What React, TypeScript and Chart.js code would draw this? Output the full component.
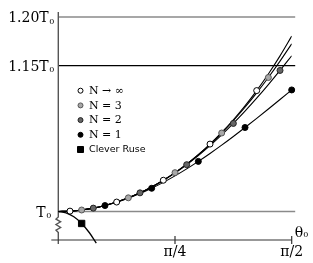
import { useEffect, useRef } from 'react';
import { Chart, registerables } from 'chart.js';

Chart.register(...registerables);

// Amplitude theta0 in degrees (0 .. pi/2)
const thetaDeg = [0, 4.5, 9, 13.5, 18, 22.5, 27, 31.5, 36, 40.5, 45, 49.5, 54, 58.5, 63, 67.5, 72, 76.5, 81, 85.5, 90];

// Period T / T0
const periodExact = [1, 1.00039, 1.00154, 1.00348, 1.0062, 1.00972, 1.01406, 1.01922, 1.02525, 1.03215, 1.03997, 1.04875, 1.05852, 1.06933, 1.08125, 1.09434, 1.10867, 1.12434, 1.14142, 1.16005, 1.18034];
const periodN3 = [1, 1.00039, 1.00154, 1.00348, 1.0062, 1.00972, 1.01406, 1.01922, 1.02524, 1.03214, 1.03993, 1.04867, 1.05836, 1.06903, 1.08072, 1.09343, 1.10719, 1.12198, 1.13779, 1.1546, 1.17236];
const periodN2 = [1, 1.00039, 1.00154, 1.00348, 1.0062, 1.00972, 1.01404, 1.01918, 1.02516, 1.03197, 1.03963, 1.04814, 1.0575, 1.0677, 1.07873, 1.09056, 1.10316, 1.11648, 1.13046, 1.14505, 1.16016];
const periodN1 = [1, 1.00039, 1.00154, 1.00345, 1.00612, 1.00952, 1.01362, 1.01842, 1.02387, 1.02995, 1.03661, 1.04382, 1.05153, 1.05969, 1.06825, 1.07716, 1.08637, 1.09582, 1.10545, 1.11519, 1.125];

// Which samples carry a marker
const marksExact = [1, 5, 9, 13, 17];
const marksN3 = [2, 6, 10, 14, 18];
const marksN2 = [3, 7, 11, 15, 19];
const marksN1 = [4, 8, 12, 16, 20];

// "Clever Ruse" curve
const ruseTheta = [0, 3, 6, 9, 12, 14.65];
const ruseValues = [1, 0.99863, 0.99452, 0.98769, 0.97815, 0.96749];
const ruseMarks = [3];

const seriesLabels = ['N → ∞', 'N = 3', 'N = 2', 'N = 1', 'Clever Ruse'];

const yRefValues = [1.2, 1.15, 1.0];
const yRefLabels = ['1.20T', '1.15T', 'T'];
const xTickValues = [45, 90];
const xTickLabels = ['π/4', 'π/2'];
const xAxisValue = 0.9707;

const SERIF = '"DejaVu Serif", serif';
const SANS = '"DejaVu Sans", sans-serif';

const pts = (xs: number[], ys: number[]) => xs.map((x, i) => ({ x, y: ys[i] }));
const pick = (xs: number[], ys: number[], idx: number[]) => idx.map((i) => ({ x: xs[i], y: ys[i] }));

const decor = {
  id: 'decor',
  beforeDatasetsDraw(chart: any) {
    const { ctx } = chart;
    const xs = chart.scales.x;
    const ys = chart.scales.y;
    const x0 = xs.getPixelForValue(0);
    const x1 = xs.getPixelForValue(90);
    const yT0 = ys.getPixelForValue(1.0);
    const yAx = ys.getPixelForValue(xAxisValue);
    ctx.save();

    // reference lines
    yRefValues.forEach((v, i) => {
      const y = ys.getPixelForValue(v);
      ctx.strokeStyle = i === 1 ? '#000' : '#8a8a8a';
      ctx.lineWidth = i === 1 ? 1.1 : 1.6;
      ctx.beginPath();
      ctx.moveTo(x0, y);
      ctx.lineTo(x1 + 3.5, y);
      ctx.stroke();
    });

    // y axis with break
    ctx.strokeStyle = '#555';
    ctx.lineWidth = 1.4;
    ctx.beginPath();
    ctx.moveTo(x0, ys.getPixelForValue(1.2) - 5);
    ctx.lineTo(x0, yT0 + 5.5);
    const zig = [[-2.3, 7.6], [2.3, 10.3], [-2.3, 13], [2.3, 16], [-2.3, 18.6], [0, 21]];
    zig.forEach(([dx, dy]) => ctx.lineTo(x0 + dx, yT0 + dy));
    ctx.lineTo(x0, yAx + 4);
    ctx.stroke();

    // x axis
    ctx.strokeStyle = '#333';
    ctx.lineWidth = 1.2;
    ctx.beginPath();
    ctx.moveTo(x0 - 7, yAx);
    ctx.lineTo(x1, yAx);
    xTickValues.forEach((v) => {
      const x = xs.getPixelForValue(v);
      ctx.moveTo(x, yAx - 4);
      ctx.lineTo(x, yAx + 4);
    });
    ctx.stroke();

    ctx.fillStyle = '#000';
    ctx.textBaseline = 'alphabetic';
    // x tick labels
    ctx.font = `14px ${SERIF}`;
    ctx.textAlign = 'center';
    xTickValues.forEach((v, i) => {
      ctx.fillText(xTickLabels[i], xs.getPixelForValue(v), yAx + 16);
    });
    // theta0
    ctx.textAlign = 'left';
    ctx.font = `14px ${SERIF}`;
    ctx.fillText('θ', x1 + 3, yAx - 3);
    ctx.font = `8px ${SERIF}`;
    ctx.fillText('0', x1 + 11.5, yAx - 3);

    // y labels
    yRefValues.forEach((v, i) => {
      const y = ys.getPixelForValue(v);
      const right = i === 2 ? x0 - 7 : x0 - 4;
      ctx.font = `8px ${SERIF}`;
      ctx.textAlign = 'right';
      ctx.fillText('0', right, y + 6.5);
      const w = ctx.measureText('0').width;
      ctx.font = `14px ${SERIF}`;
      ctx.fillText(yRefLabels[i], right - w - 0.5, y + 5);
    });
    ctx.restore();
  },
  afterDatasetsDraw(chart: any) {
    const { ctx } = chart;
    ctx.save();
    const marks = chart.data.datasets.filter((d: any) => d.isMark);
    marks.forEach((d: any, i: number) => {
      const y = 90.7 + i * 14.7;
      const x = 80.5;
      ctx.beginPath();
      if (d.pointStyle === 'rect') {
        ctx.rect(x - 3, y - 3, 6, 6);
      } else {
        ctx.arc(x, y, 2.5, 0, Math.PI * 2);
      }
      ctx.fillStyle = d.backgroundColor;
      ctx.fill();
      ctx.lineWidth = 1;
      ctx.strokeStyle = d.borderColor;
      ctx.stroke();
      ctx.fillStyle = '#000';
      ctx.textAlign = 'left';
      ctx.textBaseline = 'middle';
      ctx.font = d.pointStyle === 'rect' ? `9.5px ${SANS}` : `11px ${SERIF}`;
      ctx.fillText(d.label, 89, y + 0.5);
    });
    ctx.restore();
  },
};

export default function App() {
  const ref = useRef<HTMLCanvasElement>(null);
  useEffect(() => {
    const lineDs = (data: any[]) => ({
      data,
      showLine: true,
      pointRadius: 0,
      borderColor: '#000',
      borderWidth: 1.1,
      cubicInterpolationMode: 'monotone',
      order: 5,
      isMark: false,
    });
    const markDs = (label: string, data: any[], fill: string, border: string, style = 'circle', r = 3) => ({
      label,
      data,
      showLine: false,
      pointStyle: style,
      pointRadius: r,
      pointBackgroundColor: fill,
      pointBorderColor: border,
      backgroundColor: fill,
      borderColor: border,
      pointBorderWidth: 1,
      order: 0,
      clip: false,
      isMark: true,
    });
    const chart = new Chart(ref.current as HTMLCanvasElement, {
      type: 'scatter',
      data: {
        datasets: [
          lineDs(pts(thetaDeg, periodExact)),
          lineDs(pts(thetaDeg, periodN3)),
          lineDs(pts(thetaDeg, periodN2)),
          lineDs(pts(thetaDeg, periodN1)),
          { ...lineDs(pts(ruseTheta, ruseValues)), borderWidth: 1.3 },
          markDs(seriesLabels[0], pick(thetaDeg, periodExact, marksExact), '#ffffff', '#000'),
          markDs(seriesLabels[1], pick(thetaDeg, periodN3, marksN3), '#a8a8a8', '#555'),
          markDs(seriesLabels[2], pick(thetaDeg, periodN2, marksN2), '#666666', '#222'),
          markDs(seriesLabels[3], pick(thetaDeg, periodN1, marksN1), '#000000', '#000'),
          markDs(seriesLabels[4], pick(ruseTheta, ruseValues, ruseMarks), '#000000', '#000', 'rect', 4.5),
        ] as any,
      },
      options: {
        animation: false,
        responsive: false,
        events: [],
        layout: { padding: { left: 58.3, right: 21.3, top: 7.28, bottom: 12.6 } },
        scales: {
          x: { type: 'linear', min: 0, max: 90, display: false },
          y: { type: 'linear', min: 0.96, max: 1.21, display: false },
        },
        plugins: { legend: { display: false }, tooltip: { enabled: false } },
      },
      plugins: [decor],
    });
    return () => chart.destroy();
  }, []);
  return (
    <div style={{ position: 'absolute', left: 0, top: 0, width: 313, height: 263, background: '#fff' }}>
      <canvas ref={ref} width={313} height={263} style={{ display: 'block' }} />
    </div>
  );
}
